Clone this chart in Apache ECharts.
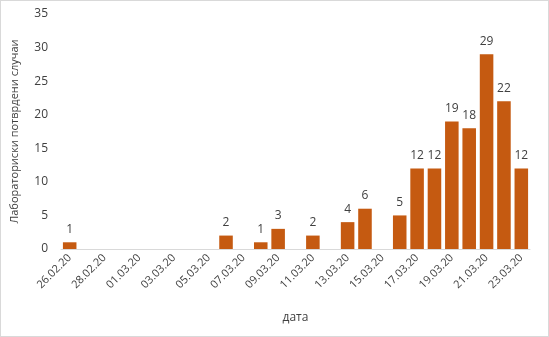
<!DOCTYPE html>
<html>
<head>
<meta charset="utf-8">
<script src="https://cdn.jsdelivr.net/npm/echarts@6/dist/echarts.min.js"></script>
<style>
  html, body { margin: 0; padding: 0; background: #fff; }
  #frame { position: absolute; left: 0; top: 0; width: 547px; height: 335px; border: 1px solid #d9d9d9; }
  #chart { position: absolute; left: 0; top: 0; width: 549px; height: 337px; }
</style>
</head>
<body>
<div id="frame"></div>
<div id="chart"></div>
<script>
// Daily laboratory-confirmed cases
const dates = [
  '26.02.20', '27.02.20', '28.02.20', '29.02.20', '01.03.20', '02.03.20', '03.03.20',
  '04.03.20', '05.03.20', '06.03.20', '07.03.20', '08.03.20', '09.03.20', '10.03.20',
  '11.03.20', '12.03.20', '13.03.20', '14.03.20', '15.03.20', '16.03.20', '17.03.20',
  '18.03.20', '19.03.20', '20.03.20', '21.03.20', '22.03.20', '23.03.20'
];
const cases = [
  1, 0, 0, 0, 0, 0, 0,
  0, 0, 2, 0, 1, 3, 0,
  2, 0, 4, 6, 0, 5, 12,
  12, 19, 18, 29, 22, 12
];
const yTicks = { min: 0, max: 35, interval: 5 };

const font = '"Open Sans", "Liberation Sans", sans-serif';
const textColor = '#404040';

const chart = echarts.init(document.getElementById('chart'));
chart.setOption({
  animation: false,
  grid: { left: 61, right: 19, top: 14, bottom: 88, containLabel: false },
  xAxis: {
    type: 'category',
    data: dates,
    name: 'дата',
    nameLocation: 'middle',
    nameGap: 63,
    nameTextStyle: { fontFamily: font, fontSize: 12, color: textColor },
    axisLine: { lineStyle: { color: '#d9d9d9', width: 1 } },
    axisTick: { interval: 1, length: 5, lineStyle: { color: '#d9d9d9' } },
    axisLabel: {
      interval: 1, rotate: 45, fontFamily: font, fontSize: 11, color: textColor, margin: 7
    },
    splitLine: { show: false }
  },
  yAxis: {
    type: 'value',
    min: yTicks.min, max: yTicks.max, interval: yTicks.interval,
    name: 'Лабораториски потврдени случаи',
    nameLocation: 'middle',
    nameGap: 41,
    nameRotate: 90,
    nameTextStyle: { fontFamily: font, fontSize: 11, color: textColor },
    axisLine: { show: false },
    axisTick: { show: false },
    axisLabel: { fontFamily: font, fontSize: 12, color: textColor, margin: 13 },
    splitLine: { show: false }
  },
  series: [{
    type: 'bar',
    data: cases.map(v => (v === 0 ? null : v)),
    barCategoryGap: '22%',
    itemStyle: { color: '#C55A11' },
    label: {
      show: true, position: 'top', distance: 7,
      fontFamily: font, fontSize: 12, color: textColor
    }
  }]
});
</script>
</body>
</html>
